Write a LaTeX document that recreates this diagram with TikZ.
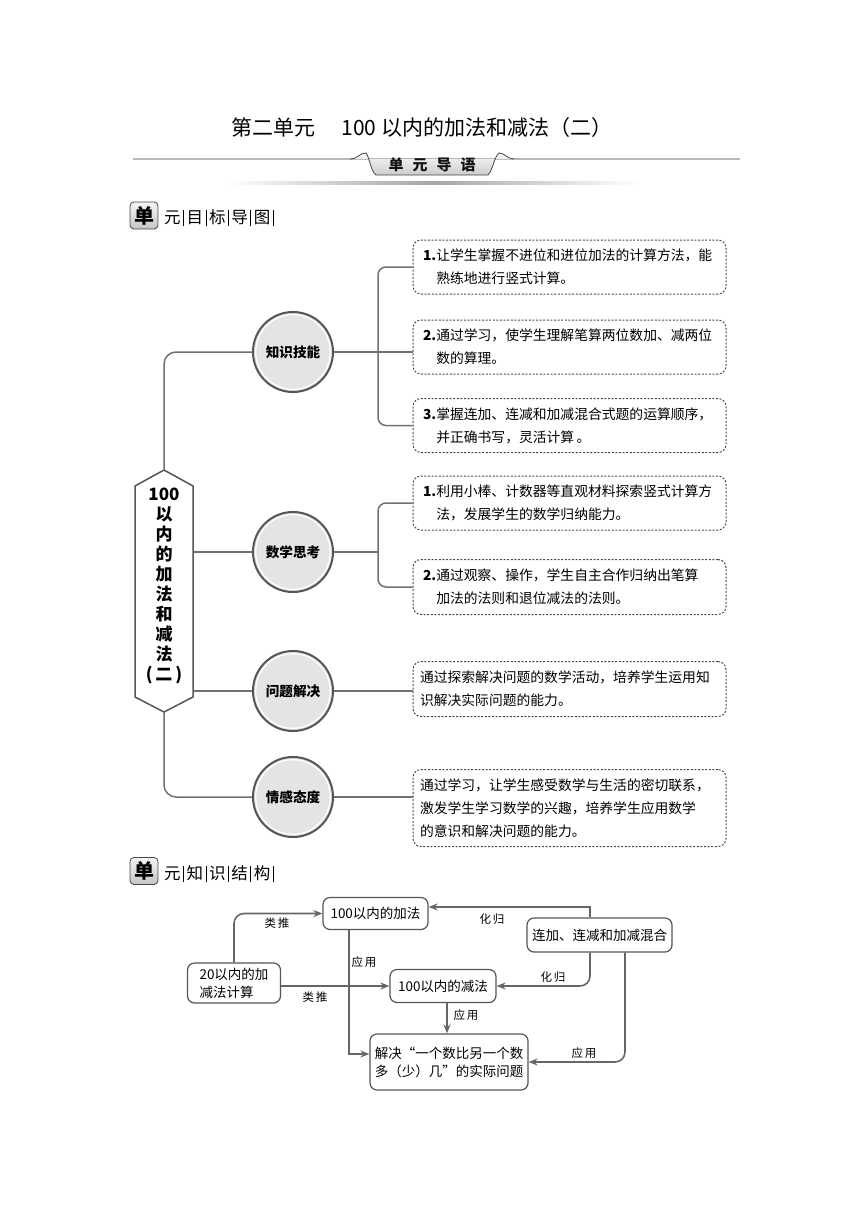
\documentclass[tikz,border=0pt]{standalone}
\usepackage{fontspec}
\setmainfont{Noto Sans CJK SC}
\usetikzlibrary{arrows.meta,shapes.geometric}
\definecolor{lineg}{HTML}{707070}
\definecolor{circc}{HTML}{555555}
\definecolor{circf}{HTML}{E4E4E4}
\definecolor{boxc}{HTML}{4A4A4A}
\definecolor{arrc}{HTML}{666666}
\definecolor{fbox}{HTML}{555555}
\newcommand\vb{\hspace{2.5pt}\rule[-2.5pt]{0.9pt}{16pt}\hspace{2.5pt}}
\tikzset{
  mline/.style={draw=lineg, line width=1.5},
  circ/.style={circle, minimum size=80, inner sep=0, draw=circc, line width=2, fill=circf,
    font=\fontsize{13.6}{13.6}\selectfont\bfseries},
  ring/.style={draw=white, line width=1.2},
  tbox/.style={draw=boxc, dash pattern=on 2pt off 1.6pt, line width=1, rounded corners=8,
    minimum width=313, text width=293, inner xsep=10, align=left,
    font=\fontsize{13.8}{23}\selectfont},
  fnode/.style={draw=fbox, line width=1.2, rounded corners=7, inner xsep=4, align=left,
    font=\fontsize{13.5}{18}\selectfont},
  arr/.style={draw=arrc, line width=1.6, -{Stealth[length=9pt,width=7pt]}},
  lab/.style={font=\fontsize{11.5}{12}\selectfont, inner sep=1},
  icon/.style={draw=gray!55!black, line width=0.8, rounded corners=4, top color=gray!8,
    bottom color=gray!45, minimum width=28, minimum height=27, inner sep=0,
    font=\fontsize{20}{20}\selectfont\bfseries},
  htext/.style={anchor=west, inner sep=0, font=\fontsize{16.5}{16.5}\selectfont},
}
\begin{document}
\begin{tikzpicture}[x=1pt,y=-1pt]
\useasboundingbox (0,0) rectangle (860,1216);

% ---------- title ----------
\node (title) at (422,128) {\fontsize{21}{21}\selectfont 第二单元\hspace{26pt}100 以内的加法和减法（二）};

% ---------- banner ----------
\draw[draw=gray!55, line width=1.1] (133,159) -- (740,159);
\shade[top color=gray!5, bottom color=gray!40, draw=gray!55!black, line width=0.8]
  (350,159) .. controls (358,159) and (359,153) .. (366,153)
  .. controls (370,158) and (370,170) .. (376,175) -- (488,175)
  .. controls (493,170) and (494,157) .. (499,153)
  .. controls (505,153) and (507,159) .. (514,159);
\node (banner) at (432,165) {\fontsize{15}{15}\selectfont\bfseries\color{gray!15!black}单\hspace{9pt}元\hspace{9pt}导\hspace{9pt}语};
\shade[left color=white, right color=white, middle color=gray!70] (225,181) rectangle (640,184);

% ---------- section 1 header ----------
\node[icon] (ic1) at (144,215.5) {单};
\node[htext] (h1) at (164,218) {元\vb 目\vb 标\vb 导\vb 图\vb};

% ---------- hexagon ----------
\draw[draw=circc, line width=1.5, fill=white] (135,486) -- (164,470) -- (193,486) -- (193,697) -- (164,712) -- (135,697) -- cycle;
\coordinate (hexT) at (164,470);
\coordinate (hexB) at (164,712);
\coordinate (hexR2) at (193,552);
\coordinate (hexR3) at (193,691);
\node[align=center, inner sep=0, font=\fontsize{17}{20}\selectfont\bfseries] (hx) at (164,586)
  {100\\以\\内\\的\\加\\法\\和\\减\\法\\(\,二\,)};

% ---------- circles ----------
\node[circ] (k1) at (293,352) {知识技能};
\node[circ] (k2) at (293,552) {数学思考};
\node[circ] (k3) at (293,691) {问题解决};
\node[circ] (k4) at (293,797) {情感态度};
\foreach \k in {k1,k2,k3,k4} \draw[ring] (\k.center) circle[radius=37.3pt];

% ---------- boxes ----------
\node[tbox, minimum height=54] (b1) at (569.5,267)
  {\textbf{1.}让学生掌握不进位和进位加法的计算方法，能\\\phantom{\textbf{1.}}熟练地进行竖式计算。};
\node[tbox, minimum height=54] (b2) at (569.5,347)
  {\textbf{2.}通过学习，使学生理解笔算两位数加、减两位\\\phantom{\textbf{2.}}数的算理。};
\node[tbox, minimum height=54] (b3) at (569.5,425.5)
  {\textbf{3.}掌握连加、连减和加减混合式题的运算顺序，\\\phantom{\textbf{3.}}并正确书写，灵活计算\,。};
\node[tbox, minimum height=54] (b4) at (569.5,503)
  {\textbf{1.}利用小棒、计数器等直观材料探索竖式计算方\\\phantom{\textbf{1.}}法，发展学生的数学归纳能力。};
\node[tbox, minimum height=55] (b5) at (569.5,587)
  {\textbf{2.}通过观察、操作，学生自主合作归纳出笔算\\\phantom{\textbf{2.}}加法的法则和退位减法的法则。};
\node[tbox, minimum height=55, inner xsep=7, text width=299] (b6) at (569.5,689)
  {通过探索解决问题的数学活动，培养学生运用知\\识解决实际问题的能力。};
\node[tbox, minimum height=77, inner xsep=7, text width=299] (b7) at (569.5,808)
  {通过学习，让学生感受数学与生活的密切联系，\\激发学生学习数学的兴趣，培养学生应用数学\\的意识和解决问题的能力。};

% ---------- mind-map connectors ----------
\coordinate (j1) at (378,352);
\coordinate (j2) at (378,552);
\draw[mline, rounded corners=12] (hexT) |- (k1);
\draw[mline, rounded corners=12] (hexB) |- (k4);
\draw[mline] (hexR2) -- (k2);
\draw[mline] (hexR3) -- (k3);
\draw[mline] (k1.east) -- (b2.west |- k1.east);
\draw[mline, rounded corners=8] (b1.west) -| (j1);
\draw[mline, rounded corners=8] (b3.west) -| (j1);
\draw[mline] (k2.east) -- (j2);
\draw[mline, rounded corners=8] (b4.west) -| (j2);
\draw[mline, rounded corners=8] (b5.west) -| (j2);
\draw[mline] (k3.east) -- (b6.west |- k3.east);
\draw[mline] (k4.east) -- (b7.west |- k4.east);

% ---------- section 2 header ----------
\node[icon] (ic2) at (144,871) {单};
\node[htext] (h2) at (164,873.5) {元\vb 知\vb 识\vb 结\vb 构\vb};

% ---------- flowchart ----------
\node[fnode, minimum width=105, minimum height=32, align=center] (A) at (375.5,913.5) {100以内的加法};
\node[fnode, minimum width=93, minimum height=40] (B) at (234,983) {20以内的加\\减法计算};
\node[fnode, minimum width=145, minimum height=34, align=center] (C) at (599.5,935) {连加、连减和加减混合};
\node[fnode, minimum width=106, minimum height=33, align=center] (D) at (443,986) {100以内的减法};
\node[fnode, minimum width=158, minimum height=56] (E) at (449,1062) {解决“一个数比另一个数\\多（少）几”的实际问题};

\coordinate (xCA) at (590,907);
\coordinate (xAE) at (349,1054);
\coordinate (xDE) at (447,1000);
\coordinate (xCE) at (625,1000);

\draw[arr, rounded corners=10] (B.north) |- (A.west);
\draw[arr] (B.east |- D.west) -- (D.west);
\draw[arr] (C.north -| xCA) |- (A.east |- xCA);
\draw[arr, rounded corners=10] (C.south -| xCA) |- (D.east);
\draw[arr] (A.south -| xAE) |- (E.west |- xAE);
\draw[arr] (D.south -| xDE) -- (E.north -| xDE);
\draw[arr, rounded corners=10] (C.south -| xCE) |- (E.east);

\node[lab] (l1) at (277,923) {类\hspace{2pt}推};
\node[lab] (l2) at (315,997) {类\hspace{2pt}推};
\node[lab] (l3) at (492,919) {化\hspace{2pt}归};
\node[lab] (l4) at (553,977) {化\hspace{2pt}归};
\node[lab] (l5) at (364,962) {应\hspace{2pt}用};
\node[lab] (l6) at (466,1015) {应\hspace{2pt}用};
\node[lab] (l7) at (584,1053) {应\hspace{2pt}用};
\end{tikzpicture}
\end{document}
